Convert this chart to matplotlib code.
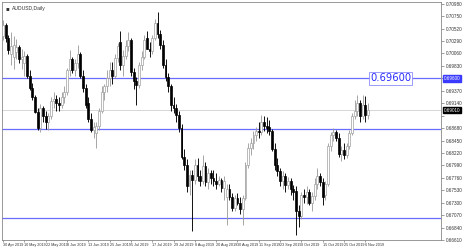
import matplotlib
matplotlib.use("Agg")
import matplotlib.pyplot as plt
import numpy as np
import pandas as pd

plt.rcParams["font.family"] = ["Liberation Sans", "DejaVu Sans"]

title = "AUDUSD,Daily"
dates = pd.bdate_range("2019-04-30", periods=138)

opens = [0.7038,0.7058,0.7034,0.7005,0.7000,0.7008,0.7018,0.6995,0.6988,0.7002,
         0.6965,0.6942,0.6925,0.6898,0.6868,0.6905,0.6890,0.6880,0.6890,0.6918,
         0.6922,0.6915,0.6910,0.6925,0.6935,0.6975,0.6995,0.6975,0.6988,0.7005,
         0.6965,0.6942,0.6915,0.6885,0.6865,0.6858,0.6872,0.6900,0.6935,0.6945,
         0.6960,0.6975,0.6965,0.6998,0.7028,0.6985,0.7002,0.7020,0.7030,0.6972,
         0.6955,0.6948,0.6985,0.7000,0.7035,0.7015,0.7010,0.7035,0.7062,0.7042,
         0.7022,0.6985,0.6962,0.6945,0.6910,0.6905,0.6892,0.6868,0.6815,0.6800,
         0.6760,0.6782,0.6772,0.6800,0.6780,0.6770,0.6798,0.6768,0.6785,0.6775,
         0.6770,0.6765,0.6772,0.6758,0.6740,0.6755,0.6740,0.6720,0.6738,0.6730,
         0.6718,0.6738,0.6800,0.6832,0.6840,0.6855,0.6862,0.6860,0.6880,0.6872,
         0.6870,0.6862,0.6830,0.6800,0.6788,0.6770,0.6780,0.6762,0.6770,0.6755,
         0.6752,0.6715,0.6705,0.6745,0.6740,0.6750,0.6730,0.6742,0.6765,0.6780,
         0.6768,0.6745,0.6765,0.6835,0.6855,0.6860,0.6850,0.6820,0.6828,0.6818,
         0.6835,0.6858,0.6890,0.6900,0.6915,0.6890,0.6910,0.6892]
highs = [0.7068,0.7062,0.7040,0.7046,0.7038,0.7032,0.7022,0.7015,0.7010,0.7005,
         0.6975,0.6952,0.6930,0.6905,0.6912,0.6908,0.6900,0.6895,0.6925,0.6935,
         0.6930,0.6925,0.6935,0.6945,0.6980,0.7012,0.7000,0.6995,0.7022,0.7008,
         0.6975,0.6950,0.6925,0.6895,0.6880,0.6880,0.6905,0.6945,0.6950,0.6975,
         0.6990,0.6990,0.7005,0.7025,0.7048,0.7012,0.7030,0.7045,0.7035,0.6980,
         0.6962,0.6990,0.7010,0.7040,0.7048,0.7028,0.7040,0.7070,0.7082,0.7050,
         0.7030,0.6995,0.6970,0.6950,0.6925,0.6912,0.6900,0.6875,0.6830,0.6810,
         0.6790,0.6790,0.6810,0.6812,0.6790,0.6818,0.6805,0.6795,0.6790,0.6790,
         0.6785,0.6780,0.6775,0.6780,0.6765,0.6765,0.6748,0.6745,0.6748,0.6740,
         0.6745,0.6805,0.6840,0.6850,0.6862,0.6870,0.6880,0.6893,0.6890,0.6888,
         0.6882,0.6866,0.6840,0.6812,0.6795,0.6788,0.6785,0.6778,0.6775,0.6762,
         0.6760,0.6725,0.6750,0.6755,0.6760,0.6755,0.6750,0.6775,0.6795,0.6785,
         0.6775,0.6770,0.6840,0.6860,0.6868,0.6865,0.6858,0.6835,0.6840,0.6840,
         0.6865,0.6895,0.6920,0.6929,0.6920,0.6930,0.6928,0.6915]
lows =  [0.7030,0.7028,0.7005,0.6985,0.6978,0.6995,0.6988,0.6978,0.6965,0.6960,
         0.6938,0.6920,0.6895,0.6864,0.6860,0.6880,0.6866,0.6865,0.6885,0.6905,
         0.6900,0.6900,0.6905,0.6915,0.6930,0.6965,0.6970,0.6965,0.6980,0.6960,
         0.6935,0.6905,0.6880,0.6860,0.6850,0.6832,0.6865,0.6895,0.6920,0.6935,
         0.6945,0.6950,0.6960,0.6990,0.6975,0.6965,0.6995,0.7010,0.6965,0.6940,
         0.6911,0.6942,0.6975,0.6995,0.7015,0.7000,0.7005,0.7030,0.7035,0.7015,
         0.6980,0.6955,0.6935,0.6900,0.6895,0.6880,0.6860,0.6810,0.6790,0.6750,
         0.6745,0.6677,0.6765,0.6770,0.6760,0.6765,0.6760,0.6755,0.6765,0.6760,
         0.6755,0.6760,0.6750,0.6735,0.6688,0.6735,0.6715,0.6715,0.6725,0.6710,
         0.6688,0.6735,0.6795,0.6818,0.6830,0.6845,0.6850,0.6855,0.6862,0.6858,
         0.6855,0.6825,0.6790,0.6780,0.6760,0.6755,0.6750,0.6755,0.6745,0.6735,
         0.6671,0.6685,0.6700,0.6730,0.6728,0.6725,0.6715,0.6735,0.6755,0.6760,
         0.6725,0.6735,0.6760,0.6825,0.6845,0.6845,0.6815,0.6808,0.6810,0.6812,
         0.6830,0.6855,0.6885,0.6890,0.6880,0.6885,0.6880,0.6885]
closes = [0.7058,0.7034,0.7012,0.7020,0.7022,0.7018,0.6995,0.7000,0.7002,0.6965,
          0.6942,0.6925,0.6898,0.6868,0.6905,0.6890,0.6880,0.6890,0.6918,0.6922,
          0.6915,0.6910,0.6925,0.6935,0.6975,0.6995,0.6975,0.6988,0.7005,0.6965,
          0.6942,0.6910,0.6885,0.6865,0.6870,0.6872,0.6900,0.6935,0.6945,0.6960,
          0.6975,0.6965,0.6998,0.7020,0.6985,0.7002,0.7020,0.7030,0.6972,0.6955,
          0.6948,0.6985,0.7000,0.7030,0.7015,0.7010,0.7035,0.7062,0.7042,0.7022,
          0.6985,0.6962,0.6945,0.6910,0.6905,0.6892,0.6868,0.6815,0.6800,0.6760,
          0.6782,0.6772,0.6800,0.6780,0.6770,0.6798,0.6768,0.6785,0.6775,0.6770,
          0.6765,0.6772,0.6758,0.6770,0.6755,0.6740,0.6720,0.6738,0.6730,0.6718,
          0.6738,0.6800,0.6832,0.6840,0.6855,0.6862,0.6860,0.6880,0.6872,0.6868,
          0.6862,0.6830,0.6800,0.6788,0.6770,0.6780,0.6762,0.6770,0.6755,0.6750,
          0.6715,0.6705,0.6745,0.6740,0.6750,0.6730,0.6742,0.6765,0.6780,0.6768,
          0.6740,0.6765,0.6835,0.6855,0.6860,0.6850,0.6820,0.6828,0.6818,0.6835,
          0.6858,0.6890,0.6900,0.6915,0.6890,0.6910,0.6892,0.6901]

hlines = [0.69600, 0.68660, 0.67020]
label_line = 0.69600
last_price = closes[-1]
y_ticks = [0.70980, 0.70750, 0.70520, 0.70290, 0.70060, 0.69830, 0.69600,
           0.69370, 0.69140, 0.68910, 0.68680, 0.68450, 0.68220, 0.67990,
           0.67760, 0.67530, 0.67300, 0.67070, 0.66840, 0.66610]
date_step = 8

W, H = 476, 248
fig = plt.figure(figsize=(W / 100, H / 100), dpi=100)
fig.patch.set_facecolor("white")
ax = fig.add_axes([2 / W, 1 - 240 / H, 439 / W, 238 / H])

n = len(closes)
x = np.arange(n)
o = np.array(opens); h = np.array(highs); l = np.array(lows); c = np.array(closes)
bull = c >= o
wick_col = np.where(bull, "#a0a0a0", "#000000")
ax.vlines(x, l, h, colors=wick_col, linewidth=0.65, zorder=2)
bottoms = np.minimum(o, c)
heights = np.maximum(np.abs(c - o), 0.00004)
ax.bar(x[bull], heights[bull], bottom=bottoms[bull], width=0.7,
       color="white", edgecolor="#a0a0a0", linewidth=0.5, zorder=3)
ax.bar(x[~bull], heights[~bull], bottom=bottoms[~bull], width=0.7,
       color="black", edgecolor="black", linewidth=0.5, zorder=3)

for v in hlines:
    ax.axhline(v, color="#6b6bff", linewidth=0.9, zorder=1)
ax.axhline(last_price, color="#d0d0d0", linewidth=0.6, zorder=0)

# y scale: 0.696 at px 78.7, 0.000184 per px
top = 0.696 + (78.7 - 2) * 0.000184
bot = 0.696 - (240 - 78.7) * 0.000184
ax.set_ylim(bot, top)
ax.set_xlim(-0.4, (441 - 2) / 2.67)

ax.text(137.8, label_line, f"{label_line:.5f}", color="#2b2bff", fontsize=7.2,
        va="center", ha="left", family="DejaVu Sans",
        bbox=dict(boxstyle="square,pad=0.12", fc="white", ec="#8c8cff", lw=0.6),
        zorder=5)

px_per_price = 1 / 0.000184
ytl = []
for v in y_ticks:
    if abs(v - label_line) * px_per_price < 6 or abs(v - last_price) * px_per_price < 6:
        ytl.append("")
    else:
        ytl.append(f"{v:.5f}")
ax.yaxis.tick_right()
ax.set_yticks(y_ticks)
ax.set_yticklabels(ytl, fontsize=3.3, color="#333333")
ax.tick_params(axis="y", length=2, width=0.4, pad=1.5, colors="#555555",
               labelcolor="#333333")

xt = list(range(0, n, date_step))
ax.set_xticks(xt)
ax.set_xticklabels([f"{dates[i].day} {dates[i].strftime('%b %Y')}" for i in xt],
                   fontsize=2.7, ha="left", color="#333333")
ax.tick_params(axis="x", length=1.5, width=0.4, pad=0.8, colors="#555555",
               labelcolor="#333333")

for sp in ax.spines.values():
    sp.set_color("#888888")
    sp.set_linewidth(0.6)

# axis value boxes
ax.annotate(f"{label_line:.5f}", xy=(1, label_line), xycoords=("axes fraction", "data"),
            xytext=(2, 0), textcoords="offset points", fontsize=3.3, color="white",
            va="center", ha="left",
            bbox=dict(boxstyle="square,pad=0.15", fc="#3a3aff", ec="#3a3aff"),
            annotation_clip=False, zorder=6)
ax.annotate(f"{last_price:.5f}", xy=(1, last_price), xycoords=("axes fraction", "data"),
            xytext=(2, 0), textcoords="offset points", fontsize=3.3, color="white",
            va="center", ha="left",
            bbox=dict(boxstyle="square,pad=0.15", fc="black", ec="black"),
            annotation_clip=False, zorder=6)

ax.text(0.008, 0.985, "\u25aa", transform=ax.transAxes, fontsize=4, va="top", ha="left",
        color="#333333", family="DejaVu Sans")
ax.text(0.022, 0.985, title, transform=ax.transAxes, fontsize=3.6, va="top", ha="left",
        color="#333333")

fig.savefig("out.png", dpi=100, facecolor="white")
